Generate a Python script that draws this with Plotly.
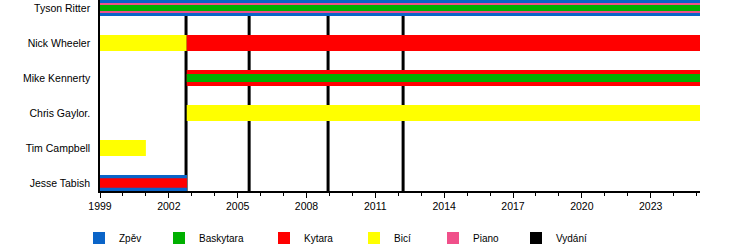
import plotly.graph_objects as go

# Members (bottom to top)
members = ["Jesse Tabish", "Tim Campbell", "Chris Gaylor.", "Mike Kennerty", "Nick Wheeler", "Tyson Ritter"]

# Role periods
END = 2025.2
periods_member = ["Tyson Ritter", "Tyson Ritter", "Tyson Ritter",
                  "Nick Wheeler", "Nick Wheeler",
                  "Mike Kennerty", "Mike Kennerty",
                  "Chris Gaylor.",
                  "Tim Campbell",
                  "Jesse Tabish", "Jesse Tabish"]
periods_role = ["Zpěv", "Piano", "Baskytara",
                "Bicí", "Kytara",
                "Kytara", "Baskytara",
                "Bicí",
                "Bicí",
                "Zpěv", "Kytara"]
periods_start = [1999.0, 1999.0, 1999.0,
                 1999.0, 2002.78,
                 2002.78, 2002.78,
                 2002.78,
                 1999.0,
                 1999.0, 1999.0]
periods_end = [END, END, END,
               2002.78, END,
               END, END,
               END,
               2001.0,
               2002.79, 2002.79]
periods_layer = [0, 1, 2,
                 0, 0,
                 0, 1,
                 0,
                 0,
                 0, 1]

# Releases (Vydání)
releases = [2002.75, 2005.5, 2008.94, 2012.21]

roles = ["Zpěv", "Baskytara", "Kytara", "Bicí", "Piano", "Vydání"]
role_colors = {"Zpěv": "#0a64c8", "Baskytara": "#00b000", "Kytara": "#ff0000",
               "Bicí": "#ffff00", "Piano": "#f0508a", "Vydání": "#000000"}
legend_px = [98, 178, 283, 373, 452, 535]

layer_width = {0: 0.46, 1: 0.29, 2: 0.17}
mike_inner = 0.23
jesse_inner = 0.27

fig = go.Figure()

# release lines (beneath bars)
for r in releases:
    fig.add_shape(type="line", xref="x", yref="paper", x0=r, x1=r, y0=0, y1=1,
                  line=dict(color="black", width=3), layer="below")

ypos = {m: i for i, m in enumerate(members)}
for m, role, s, e, lay in zip(periods_member, periods_role, periods_start, periods_end, periods_layer):
    w = layer_width[lay]
    if m == "Mike Kennerty" and lay == 1:
        w = mike_inner
    if m == "Jesse Tabish" and lay == 1:
        w = jesse_inner
    fig.add_trace(go.Bar(y=[ypos[m]], x=[e - s], base=[s], orientation="h",
                         width=w, marker=dict(color=role_colors[role], line=dict(width=0)),
                         showlegend=False, hoverinfo="skip"))

# legend entries, each in its own legend box
legend_layouts = {}
for i, role in enumerate(roles):
    lname = "legend" if i == 0 else f"legend{i+1}"
    fig.add_trace(go.Scatter(x=[None], y=[None], mode="markers",
                             marker=dict(symbol="square", size=12, color=role_colors[role]),
                             name=role, showlegend=True, legend=lname))
    legend_layouts[lname] = dict(orientation="h", xref="container", yref="container",
                                 x=(legend_px[i] - 19) / 750, xanchor="left",
                                 y=(250 - 238) / 250, yanchor="middle",
                                 font=dict(size=10), itemwidth=30, bgcolor="rgba(0,0,0,0)")

fig.update_layout(
    width=750, height=250,
    margin=dict(l=100, r=50, t=0, b=59, autoexpand=False),
    paper_bgcolor="white", plot_bgcolor="white",
    barmode="overlay",
    font=dict(family="Liberation Sans, Arial, sans-serif", size=10, color="black"),
    showlegend=True,
    **legend_layouts,
)
fig.update_xaxes(range=[1999, 2025.15], tick0=1999, dtick=3, ticks="outside", ticklen=5,
                 tickcolor="black", showline=True, linecolor="black", linewidth=1.5,
                 showgrid=False, zeroline=False, tickfont=dict(size=10.5), ticklabelstandoff=0,
                 minor=dict(dtick=1, tick0=1999, ticks="outside", ticklen=3, tickcolor="black", showgrid=False))
fig.update_yaxes(range=[-0.229, 5.229], tickvals=list(range(len(members))), ticktext=members,
                 showline=True, linecolor="black", linewidth=1.5, showgrid=False, zeroline=False,
                 ticks="", ticklabelstandoff=6, tickfont=dict(size=10.5))

fig.write_html("out.html")
